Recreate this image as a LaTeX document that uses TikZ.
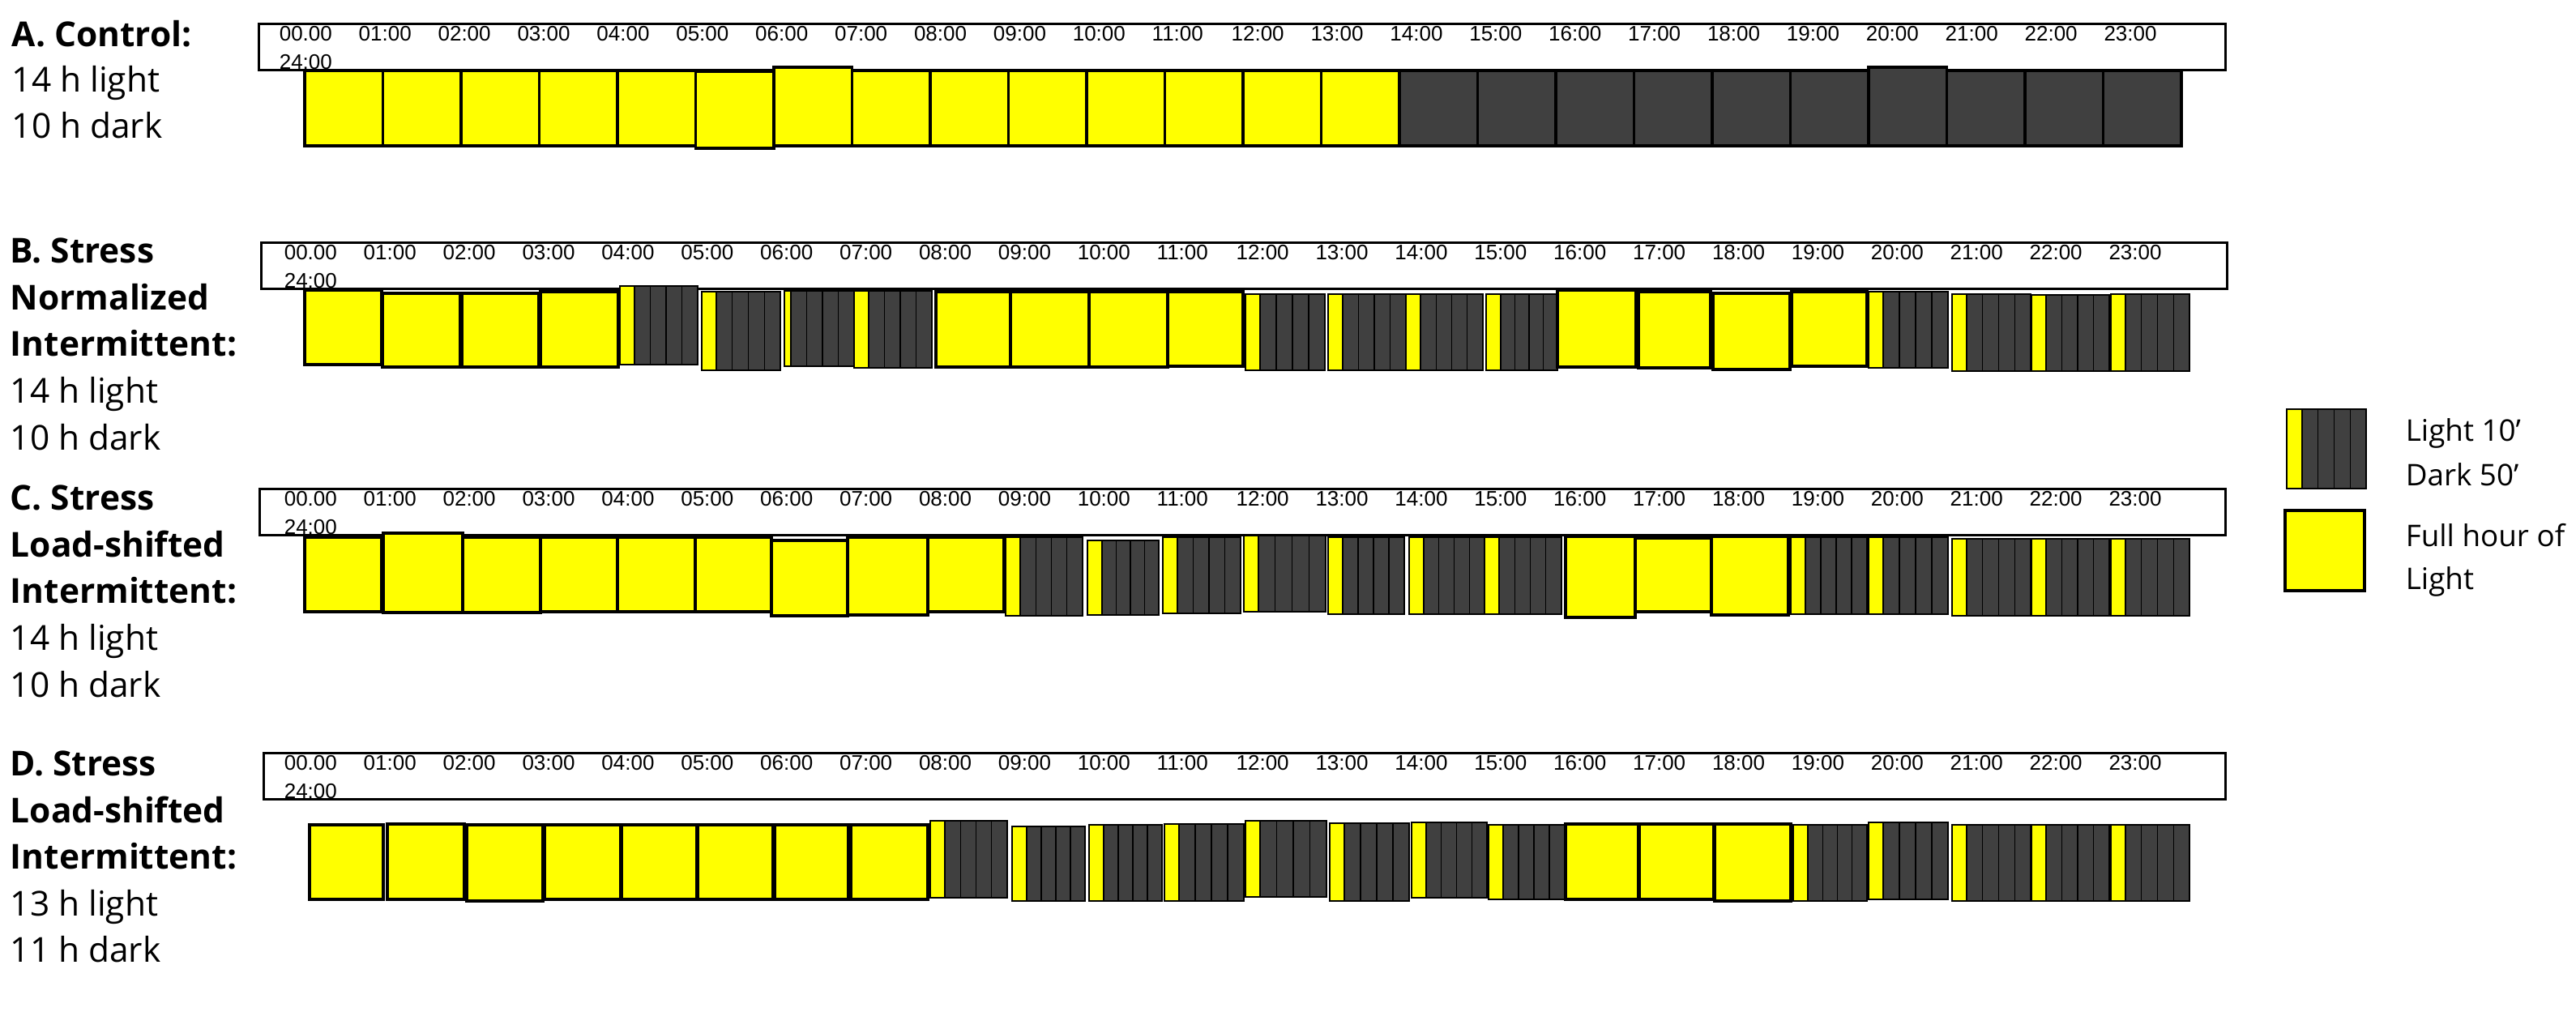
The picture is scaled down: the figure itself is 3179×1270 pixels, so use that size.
\documentclass[tikz,border=0pt]{standalone}
\usepackage{fontspec}
\setmainfont{Open Sans}
\newfontfamily\hdrfont{Liberation Sans}
\definecolor{ylw}{HTML}{FFFF00}
\definecolor{drk}{HTML}{404040}
\newcommand\yblk[4]{\draw[ybox] (#1,#3) rectangle (#2,#4);}
\newcommand\dblk[4]{\draw[dbox] (#1,#3) rectangle (#2,#4);}
\newcommand\iblk[5]{%
  \fill[ylw] (#1,#3) rectangle ({#1+#5},#4);
  \fill[drk] ({#1+#5},#3) rectangle (#2,#4);
  \foreach \k in {0,1,2,3}{\draw[iline] ({#1+#5+\k*(#2-#1-#5)/4},#3) -- ({#1+#5+\k*(#2-#1-#5)/4},#4);}
  \draw[ibox] (#1,#3) rectangle (#2,#4);}
\newcommand\drawrow[1]{%
  \foreach \xa/\xb/\ya/\yb/\t in {#1}{%
    \ifnum\t=1 \yblk{\xa}{\xb}{\ya}{\yb}\fi
    \ifnum\t=2 \dblk{\xa}{\xb}{\ya}{\yb}\fi
    \ifnum\t=3 \iblk{\xa}{\xb}{\ya}{\yb}{18}\fi
    \ifnum\t=4 \iblk{\xa}{\xb}{\ya}{\yb}{8}\fi
  }}
\newcommand\hdr[4]{% box left, box top, box right, label base
  \draw[hbox] (#1,#2) rectangle (#3,{#2+57});
  \foreach \i [evaluate=\i as \lx using {#4+97.9*\i}] in {1,...,23}{%
    \node[hlab] at (\lx,{#2+21}) {\ifnum\i<10 0\fi\i:00};}
  \node[hlab] at (#4,{#2+21}) {00.00};
  \node[hlab] at (#4,{#2+56}) {24:00};}
\begin{document}
\begin{tikzpicture}[x=0.25pt,y=-0.25pt,
  ybox/.style={fill=ylw,draw=black,line width=0.8pt},
  dbox/.style={fill=drk,draw=black,line width=0.8pt},
  ibox/.style={draw=black,line width=0.45pt},
  iline/.style={draw=black,line width=0.3pt},
  hbox/.style={draw=black,line width=0.75pt,fill=white},
  hlab/.style={anchor=base west,inner sep=0pt,font=\hdrfont\fontsize{6.5pt}{8pt}\selectfont},
  lab/.style={anchor=base west,inner sep=0pt,font=\fontsize{10.6pt}{14pt}\selectfont},
  blab/.style={lab,font=\bfseries\fontsize{10.6pt}{14pt}\selectfont},
  leg/.style={anchor=base west,inner sep=0pt,font=\fontsize{9.2pt}{12pt}\selectfont}]
\useasboundingbox (0,0) rectangle (3179,1270);

% ---------- Row A ----------
\node[blab] (a1) at (14,58) {A. Control:};
\node[lab] (a2) at (14,114) {14 h light};
\node[lab] (a3) at (14,171) {10 h dark};
\hdr{319}{30}{2746}{344}
\drawrow{376/472.5/87/180/1, 472.5/569/87/180/1, 569/665.5/87/180/1, 665.5/762/87/180/1,
 762/858.5/87/180/1, 858.5/955/88/183/1, 955/1051.5/83/180/1, 1051.5/1148/87/180/1,
 1148/1244.5/87/180/1, 1244.5/1341/87/180/1, 1341/1437.5/87/180/1, 1437.5/1534/87/180/1,
 1534/1630.5/87/180/1, 1630.5/1727/87/180/1, 1727/1823.5/87/180/2, 1823.5/1920/87/180/2,
 1920/2016.5/87/180/2, 2016.5/2113/87/180/2, 2113/2209.5/87/180/2, 2209.5/2306/87/180/2,
 2306/2402.5/83/180/2, 2402.5/2499/87/180/2, 2499/2595.5/87/180/2, 2595.5/2692/87/180/2}

% ---------- Row B ----------
\node[blab] (b1) at (12,325) {B. Stress};
\node[blab] (b2) at (12,383) {Normalized};
\node[blab] (b3) at (12,440) {Intermittent:};
\node[lab] (b4) at (12,498) {14 h light};
\node[lab] (b5) at (12,556) {10 h dark};
\hdr{322}{300}{2748}{350}
\drawrow{376/471/358/450/1, 472/568/362/453/1, 570/665/362/453/1, 667/763/360/453/1,
 765/861/353/450/3, 866/963/360/457/3, 968/1054/359/452/4, 1054/1150/359/454/3,
 1155/1247/360/453/1, 1247/1344/360/453/1, 1344/1441/360/453/1, 1441/1534/360/452/1,
 1537/1635/363/457/3, 1639/1735/363/457/3, 1735/1830/363/457/3, 1834/1922/363/457/3,
 1922/2019/358/453/1, 2022/2111/360/454/1, 2114/2209/362/456/1, 2211/2304/360/452/1,
 2306/2404/360/454/3, 2409/2506/363/458/3, 2507/2603/364/458/3, 2605/2702/363/458/3}

% ---------- Row C ----------
\node[blab] (c1) at (12,630) {C. Stress};
\node[blab] (c2) at (12,688) {Load-shifted};
\node[blab] (c3) at (12,745) {Intermittent:};
\node[lab] (c4) at (12,803) {14 h light};
\node[lab] (c5) at (12,861) {10 h dark};
\hdr{320}{604}{2746}{350}
\drawrow{376/471/663/755/1, 473/571/658/756/1, 571/667/663/756/1, 667/762/663/755/1,
 762/858/663/755/1, 858/952/663/755/1, 952/1046/667/760/1, 1046/1145/663/759/1,
 1145/1239/663/755/1, 1241/1336/663/760/3, 1342/1430/667/759/3, 1435/1531/663/757/3,
 1535/1636/661/755/3, 1639/1733/663/758/3, 1739/1832/663/758/3, 1832/1927/663/758/3,
 1932/2018/662/762/1, 2018/2112/664/755/1, 2112/2207/662/759/1, 2210/2304/663/758/3,
 2306/2404/663/758/3, 2409/2506/665/760/3, 2507/2603/665/760/3, 2605/2702/665/760/3}

% ---------- Row D ----------
\node[blab] (d1) at (12,958) {D. Stress};
\node[blab] (d2) at (12,1016) {Load-shifted};
\node[blab] (d3) at (12,1073) {Intermittent:};
\node[lab] (d4) at (12,1131) {13 h light};
\node[lab] (d5) at (12,1188) {11 h dark};
\hdr{325}{930}{2746}{350}
\drawrow{382/473/1018/1110/1, 478/573/1017/1110/1, 576/670/1018/1112/1, 672/766/1018/1110/1,
 767/860/1018/1110/1, 861/954/1018/1110/1, 956/1047/1018/1110/1, 1050/1145/1018/1110/1,
 1148/1243/1013/1108/3, 1249/1339/1020/1112/3, 1344/1434/1018/1112/3, 1437/1535/1017/1112/3,
 1537/1637/1013/1107/3, 1641/1739/1016/1112/3, 1742/1835/1015/1108/3, 1837/1931/1018/1110/3,
 1932/2022/1017/1110/1, 2023/2115/1017/1110/1, 2116/2210/1017/1112/1, 2213/2304/1018/1112/3,
 2306/2404/1015/1110/3, 2409/2506/1018/1112/3, 2507/2603/1018/1112/3, 2605/2702/1018/1112/3}

% ---------- Legend ----------
\iblk{2822}{2920}{505}{603}{19}
\yblk{2820}{2918}{630}{729}
\node[leg] (l1) at (2968,545) {Light 10’};
\node[leg] (l2) at (2968,600) {Dark 50’};
\node[leg] (l3) at (2968,675) {Full hour of};
\node[leg] (l4) at (2968,728) {Light};
\end{tikzpicture}
\end{document}
